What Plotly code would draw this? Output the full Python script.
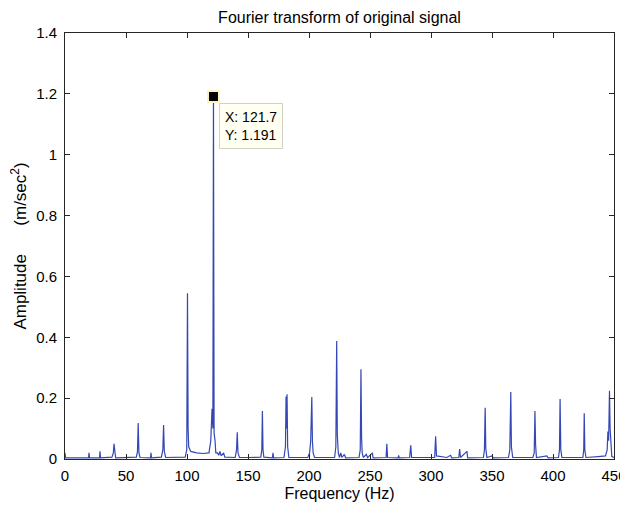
import plotly.graph_objects as go

# Spectrum points (frequency in Hz, amplitude in m/sec^2)
freq = [0, 0.5, 19.3, 19.7, 20.1, 28.3, 28.7, 29.1,
        38.5, 39.6, 40.2, 40.8, 41.5,
        58.5, 59.4, 60.0, 60.6, 61.5,
        70.1, 70.5, 70.9,
        79.0, 80.2, 80.8, 81.4, 82.5,
        98.5, 99.8, 100.4, 100.9, 101.4, 103.0, 108.0, 113.0, 118.0,
        119.5, 120.5, 121.2, 121.7, 122.2, 123.0, 123.6, 125.0, 126.0, 127.0, 128.0, 130.0, 131.0,
        139.5, 140.6, 141.2, 141.8, 143.0,
        150.0,
        160.5, 161.3, 161.8, 162.3, 163.0,
        170.0, 170.5, 171.0,
        179.5, 180.7, 181.2, 181.6, 182.0, 182.5, 183.5,
        199.0, 200.5, 201.4, 202.3, 202.8, 203.4, 204.5,
        210.0,
        221.0, 222.0, 222.7, 223.2, 224.0, 225.0, 226.0, 227.0, 229.0, 230.0,
        241.0, 242.0, 242.6, 243.1, 243.6, 244.5, 247.0, 248.0,
        252.0, 252.5,
        263.2, 263.8, 264.4,
        273.0, 273.5, 274.0,
        282.5, 283.4, 284.1,
        303.0, 303.8, 304.5,
        313.0, 316.0, 317.0,
        322.8, 323.5, 324.2, 329.5, 330.0,
        343.0, 343.8, 344.4, 344.9, 345.8,
        350.0, 351.0,
        363.5, 364.6, 365.4, 365.9, 367.0,
        383.5, 384.6, 385.2, 385.7, 386.4,
        395.0, 396.0,
        404.5, 405.3, 405.8, 406.4, 407.3,
        424.5, 425.2, 425.6, 426.1, 427.0,
        437.0, 443.0, 444.4, 445.0, 445.6, 446.3, 446.8, 447.4, 448.2, 450.0]
amp = [0.02, 0.004, 0.004, 0.02, 0.004, 0.004, 0.025, 0.004,
       0.006, 0.02, 0.05, 0.01, 0.004,
       0.006, 0.025, 0.118, 0.02, 0.005,
       0.004, 0.02, 0.004,
       0.006, 0.03, 0.112, 0.025, 0.005,
       0.006, 0.03, 0.545, 0.1, 0.04, 0.025, 0.02, 0.018, 0.02,
       0.06, 0.165, 0.1, 1.191, 0.085, 0.06, 0.02, 0.02, 0.012, 0.025, 0.01, 0.02, 0.006,
       0.005, 0.03, 0.088, 0.02, 0.005,
       0.005,
       0.006, 0.03, 0.158, 0.03, 0.006,
       0.004, 0.02, 0.004,
       0.005, 0.04, 0.205, 0.1, 0.213, 0.04, 0.005,
       0.005, 0.02, 0.06, 0.204, 0.06, 0.02, 0.005,
       0.005,
       0.005, 0.04, 0.388, 0.08, 0.02, 0.005, 0.02, 0.005, 0.015, 0.004,
       0.005, 0.03, 0.295, 0.07, 0.02, 0.005, 0.015, 0.004,
       0.02, 0.004,
       0.005, 0.05, 0.005,
       0.004, 0.012, 0.004,
       0.005, 0.045, 0.005,
       0.005, 0.075, 0.01,
       0.005, 0.012, 0.004,
       0.005, 0.033, 0.005, 0.025, 0.004,
       0.005, 0.03, 0.168, 0.035, 0.005,
       0.01, 0.004,
       0.005, 0.03, 0.22, 0.04, 0.005,
       0.005, 0.02, 0.158, 0.05, 0.005,
       0.01, 0.004,
       0.005, 0.03, 0.197, 0.03, 0.005,
       0.005, 0.03, 0.15, 0.03, 0.005,
       0.008, 0.01, 0.03, 0.09, 0.06, 0.224, 0.1, 0.03, 0.008, 0.005]

tip_x = [121.7]
tip_y = [1.191]
tip_text = "X: 121.7<br>Y: 1.191"

x_ticks = [0, 50, 100, 150, 200, 250, 300, 350, 400, 450]
y_ticks = [0, 0.2, 0.4, 0.6, 0.8, 1, 1.2, 1.4]
y_tick_text = ["0", "0.2", "0.4", "0.6", "0.8", "1", "1.2", "1.4"]

FONT = "Liberation Sans, Arial, sans-serif"
NB = "\u00a0"

fig = go.Figure()
fig.add_trace(go.Scatter(x=freq, y=amp, mode="lines",
                         line=dict(color="#3447b4", width=1.2),
                         showlegend=False, hoverinfo="skip"))
fig.add_trace(go.Scatter(x=tip_x, y=tip_y, mode="markers",
                         marker=dict(symbol="square", size=11, color="black",
                                     line=dict(color="#fff3c0", width=2)),
                         showlegend=False))

fig.add_annotation(x=126.2, y=1.170, xref="x", yref="y", text=tip_text,
                   showarrow=False, xanchor="left", yanchor="top", align="left",
                   font=dict(family=FONT, size=14, color="black"),
                   bgcolor="#fffff2", bordercolor="#d2d2c0", borderwidth=1, borderpad=5)

axis_common = dict(showline=True, linecolor="#262626", linewidth=1, mirror="ticks",
                   ticks="inside", ticklen=5, tickcolor="#262626", showgrid=False,
                   zeroline=False, automargin=False,
                   tickfont=dict(family=FONT, size=15, color="black"))

fig.update_xaxes(range=[0, 450], tickvals=x_ticks, ticktext=[str(v) for v in x_ticks],
                 ticklabelstandoff=3,
                 title=dict(text="Frequency (Hz)", font=dict(family=FONT, size=16, color="black"),
                            standoff=4),
                 **axis_common)
fig.update_yaxes(range=[0, 1.4], tickvals=y_ticks, ticktext=y_tick_text,
                 ticklabelstandoff=4,
                 title=dict(text="Amplitude" + NB * 6 + "(m/sec<sup>2</sup>)",
                            font=dict(family=FONT, size=17, color="black"), standoff=6),
                 **axis_common)

# the page body adds an 8px offset on both sides; sized so the plot box matches the reference
fig.update_layout(
    width=620, height=498,
    margin=dict(l=57, r=14, t=25, b=47),
    paper_bgcolor="white", plot_bgcolor="white",
    title=dict(text="Fourier transform of original signal", x=(339.5 - 8) / 620, xanchor="center",
               y=1 - 9.5 / 498, yanchor="middle",
               font=dict(family=FONT, size=16, color="black")),
)

fig.write_html("out.html")
